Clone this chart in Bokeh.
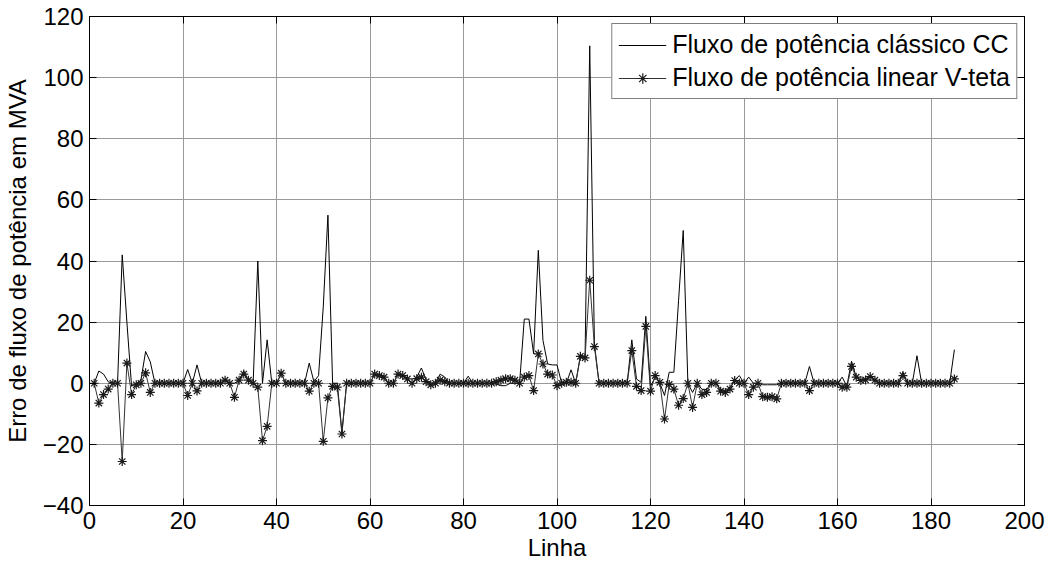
import numpy as np
from bokeh.plotting import figure
from bokeh.models import LinearAxis, FixedTicker, Legend, LegendItem, CustomJSTickFormatter
from bokeh.embed import file_html
from bokeh.resources import INLINE

linha = list(range(1, 186))

fluxo_cc = [
    0, 4, 3, 0.5, 0, 0, 42, 20, -1, 0,
    1, 10.4, 7, 0, 0, 0, 0, 0, 0, 0,
    4.5, 0, 6, 0, 0, 0, 0, 0, 1, 0,
    0, 1, 4, 1, 0, 40, 0, 14.2, 0, 0,
    3, 0, 0, 0, 0, 0, 6.6, 0.5, 2.5, 25,
    55, 0, 0, -16, 0, 0, 0, 0, 0, 0,
    3, 2.5, 1.5, 0, 0, 3, 2.5, 1.5, 0, 2,
    5, 1, 0, 0, 3, 2, 0, 0, 0, 0,
    2.3, 0, 0, 0, 0, 0, -0.3, -0.8, -0.8, 0,
    0, 0, 21, 21, 9.6, 43.5, 14, 6.3, 6, 6,
    0, 0, 4.4, 0, 9, 8.5, 110.4, 13, 0, 0,
    0, 0, 0, 0, 0, 14.2, 1.4, 0.3, 21.9, -1,
    2, 0, -4, 3.6, 3.6, 27, 50, 0, -3, 0,
    -2, -2, 0, 0, -2, -2.5, -1.5, 1, 2.5, 0,
    2, 0, 0, -0.5, -0.5, -0.5, -0.5, 0, 0, 0,
    0, 0, 0, 5.5, 0, 0, 0, 0, 0, 0,
    2, -1, 7.2, 2, 1, 1.2, 2.2, 1, 0, 0,
    0, 0, 0, 3.6, 0, 0, 9, 0, 0, 0,
    0, 0, 0, 0, 11,
]

fluxo_vteta = [
    0, -6.5, -3.7, -1.9, 0, 0, -25.6, 6.6, -3.7, -0.5,
    0, 3.4, -3, 0, 0, 0, 0, 0, 0, 0,
    -4, 0, -2.5, 0, 0, 0, 0, 0, 1, 0,
    -4.6, 1, 3, 1, 0, -1.3, -18.8, -14.1, 0, 0,
    3.3, 0, 0, 0, 0, 0, -2.6, 0, 0, -19,
    -4.8, -1, -1.3, -16.6, 0, 0, 0, 0, 0, 0,
    3, 2.5, 2, 0, 0, 3, 2.5, 1.4, 0, 1.5,
    2, 0.5, -0.5, 0, 1, 0.5, 0, 0, 0, 0,
    0, 0, 0, 0, 0, 0, 0.5, 1, 1.5, 1.5,
    1, 0, 2, 2.5, -2.4, 9.6, 6.3, 3, 2.7, -0.8,
    0, 0.3, 0.3, 0, 8.8, 8.3, 33.7, 12, 0, 0,
    0, 0, 0, 0, 0, 10.7, -1, -2.4, 18.6, -2.6,
    2.5, 0.3, -11.7, -0.4, -1.9, -7.2, -5, 0, -7.9, 0,
    -3.7, -3, 0, 0, -2.6, -3, -1.9, 0.9, 0, 0,
    -3.7, -1.3, 0, -4.4, -4.6, -4.4, -5.1, 0, 0, 0,
    0, 0, 0, -2.4, 0, 0, 0, 0, 0, 0,
    -1.3, -1.3, 5.5, 2, 0.9, 1.1, 2.2, 1, 0, 0,
    0, 0, 0, 2.5, 0, 0, 0, 0, 0, 0,
    0, 0, 0, 0, 1.4,
]

x_ticks = [0, 20, 40, 60, 80, 100, 120, 140, 160, 180, 200]
y_ticks = [-40, -20, 0, 20, 40, 60, 80, 100, 120]

FONT = "Liberation Sans"

p = figure(width=1051, height=565, x_range=(0, 200), y_range=(-40, 120),
           output_backend="svg", toolbar_location=None,
           min_border_left=89, min_border_right=27, min_border_top=16, min_border_bottom=60)
p.background_fill_color = "white"
p.border_fill_color = "white"
p.outline_line_color = "black"
p.outline_line_width = 1

for ax in (p.xaxis[0], p.yaxis[0]):
    ax.major_label_text_font = FONT
    ax.major_label_text_font_size = "24px"
    ax.major_label_text_color = "black"
    ax.axis_label_text_font = FONT
    ax.axis_label_text_font_size = "24px"
    ax.axis_label_text_font_style = "normal"
    ax.axis_label_text_color = "black"
    ax.major_tick_in = 7
    ax.major_tick_out = 0
    ax.minor_tick_line_color = None
    ax.axis_line_color = "black"
    ax.major_tick_line_color = "black"

p.xaxis[0].ticker = FixedTicker(ticks=x_ticks)
p.yaxis[0].ticker = FixedTicker(ticks=y_ticks)
p.xaxis[0].axis_label = "Linha"
p.yaxis[0].axis_label = "Erro de fluxo de potência em MVA"
p.xaxis[0].major_label_standoff = 6
p.xaxis[0].axis_label_standoff = 2
p.yaxis[0].major_label_standoff = 6
p.yaxis[0].axis_label_standoff = 9

blank = CustomJSTickFormatter(code="return ''")
top = LinearAxis(ticker=FixedTicker(ticks=x_ticks), formatter=blank,
                 major_tick_in=7, major_tick_out=0, minor_tick_line_color=None,
                 major_label_standoff=0)
right = LinearAxis(ticker=FixedTicker(ticks=y_ticks), formatter=blank,
                   major_tick_in=7, major_tick_out=0, minor_tick_line_color=None,
                   major_label_standoff=0)
p.add_layout(top, "above")
p.add_layout(right, "right")

p.xgrid.ticker = FixedTicker(ticks=x_ticks)
p.ygrid.ticker = FixedTicker(ticks=y_ticks)
p.grid.grid_line_color = "#9a9a9a"
p.grid.grid_line_width = 1

r_cc = p.line(linha, fluxo_cc, line_color="black", line_width=1)
r_vt_line = p.line(linha, fluxo_vteta, line_color="#333333", line_width=1)
r_vt_mark = p.scatter(linha, fluxo_vteta, marker="asterisk", size=9,
                      line_color="#1a1a1a", line_width=1.2)

legend = Legend(items=[
    LegendItem(label="Fluxo de potência clássico CC", renderers=[r_cc]),
    LegendItem(label="Fluxo de potência linear V-teta", renderers=[r_vt_line, r_vt_mark]),
], location="top_right")
legend.label_text_font = FONT
legend.label_text_font_size = "25px"
legend.label_text_color = "black"
legend.glyph_width = 48
legend.glyph_height = 26
legend.label_height = 26
legend.spacing = 4
legend.padding = 6
legend.margin = 7
legend.label_standoff = 6
legend.border_line_color = "black"
legend.border_line_width = 1
legend.background_fill_color = "white"
legend.background_fill_alpha = 1
p.add_layout(legend)

open("out.html", "w").write(file_html(p, INLINE))
